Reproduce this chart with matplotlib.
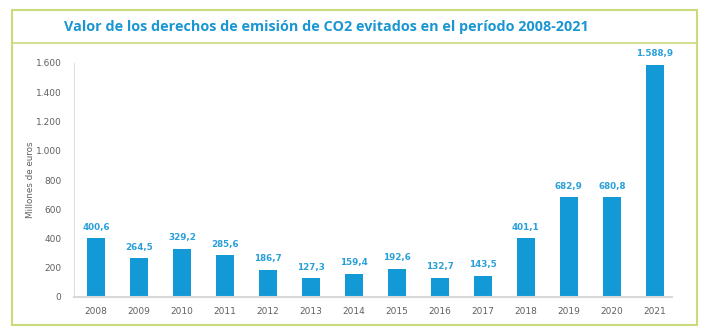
import matplotlib.pyplot as plt
from matplotlib.patches import Rectangle
from matplotlib.lines import Line2D

years = ["2008", "2009", "2010", "2011", "2012", "2013", "2014",
         "2015", "2016", "2017", "2018", "2019", "2020", "2021"]
valores = [400.6, 264.5, 329.2, 285.6, 186.7, 127.3, 159.4,
           192.6, 132.7, 143.5, 401.1, 682.9, 680.8, 1588.9]
etiquetas = ["400,6", "264,5", "329,2", "285,6", "186,7", "127,3", "159,4",
             "192,6", "132,7", "143,5", "401,1", "682,9", "680,8", "1.588,9"]
yticks = [0, 200, 400, 600, 800, 1000, 1200, 1400, 1600]
ytick_labels = ["0", "200", "400", "600", "800", "1.000", "1.200", "1.400", "1.600"]

azul = "#139ad6"
verde = "#c9dc7c"

fig = plt.figure(figsize=(7.1, 3.35), dpi=100)

# marco exterior y linea bajo el titulo
fig.patches.append(Rectangle((12 / 710, 1 - 325 / 335), 685 / 710, 315 / 335,
                             transform=fig.transFigure, fill=False,
                             edgecolor=verde, linewidth=1.5))
fig.lines.append(Line2D([12 / 710, 697 / 710], [1 - 43 / 335, 1 - 43 / 335],
                        transform=fig.transFigure, color=verde, linewidth=1.2))

fig.text(326 / 710, 1 - 27 / 335,
         "Valor de los derechos de emisión de CO2 evitados en el período 2008-2021",
         ha="center", va="center", color="#1a96d2", fontsize=10.4,
         fontweight="bold", family="Open Sans")

ax = fig.add_axes([74 / 710, 1 - 297 / 335, 598 / 710, 234 / 335])
x = range(len(years))
ax.bar(x, valores, width=0.42, color=azul)
for i, (v, t) in enumerate(zip(valores, etiquetas)):
    ax.text(i, v + 45, t, ha="center", va="bottom", color="#2aa0da",
            fontsize=6.3, fontweight="bold")

ax.set_xlim(-0.51, 13.4)
ax.set_ylim(0, 1600)
ax.set_xticks(list(x))
ax.set_xticklabels(years)
ax.set_yticks(yticks)
ax.set_yticklabels(ytick_labels)
ax.tick_params(length=0, labelsize=6.5, colors="#606060", pad=7)
ax.tick_params(axis="y", pad=9)
ax.set_ylabel("Millones de euros", fontsize=6.3, color="#606060")
ax.yaxis.set_label_coords(-0.065, 0.5)

for s in ["top", "right"]:
    ax.spines[s].set_visible(False)
ax.spines["left"].set_color("#e0e0e0")
ax.spines["bottom"].set_color("#d9d9d9")
ax.spines["bottom"].set_linewidth(1.5)

fig.savefig("out.png", dpi=100)
